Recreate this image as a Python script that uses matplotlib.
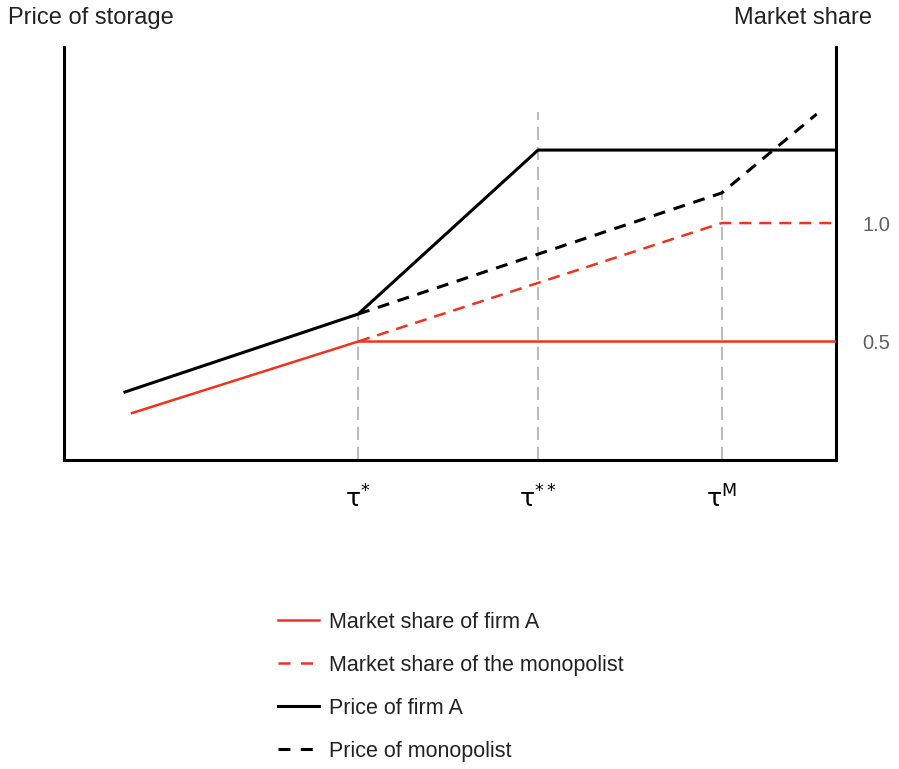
import matplotlib
matplotlib.use("Agg")
import matplotlib.pyplot as plt

# Threshold positions on the storage-cost axis
tau_labels = [r"$\mathrm{\tau}^{\mathrm{*}}$", r"$\mathrm{\tau}^{\mathrm{**}}$", r"$\mathrm{\tau}^{\mathrm{M}}$"]
tau_pos = [3.81, 6.14, 8.52]

# Market share of firm A (solid red)
share_a_x = [0.88, 3.81, 10.0]
share_a_y = [0.198, 0.5, 0.5]

# Market share of the monopolist (dashed red)
share_m_x = [3.81, 8.52, 10.0]
share_m_y = [0.5, 1.0, 1.0]

# Price of firm A (solid black)
price_a_x = [0.79, 3.81, 6.14, 10.0]
price_a_y = [0.287, 0.616, 1.308, 1.308]

# Price of monopolist (dashed black)
price_m_x = [3.81, 8.52, 9.75]
price_m_y = [0.616, 1.127, 1.46]

# Heights reached by the grey guide lines
guide_top = [0.616, 1.47, 1.127]

share_ticks = [0.5, 1.0]
share_tick_labels = ["0.5", "1.0"]

RED = "#f0331f"
GREY = "#bdbdbd"

fig = plt.figure(figsize=(8.99, 7.69), dpi=100)
ax = fig.add_axes([64 / 899, 1 - 460 / 769, (836 - 64) / 899, (460 - 47) / 769])
ax.set_xlim(0, 10)
ax.set_ylim(0, 1.743)

for xp, top in zip(tau_pos, guide_top):
    ax.plot([xp, xp], [0, top], color=GREY, lw=1.5, dashes=(6.3, 3.3), zorder=1)

l1, = ax.plot(share_a_x, share_a_y, color=RED, lw=1.8, zorder=3,
              label="Market share of firm A")
l2, = ax.plot(share_m_x, share_m_y, color=RED, lw=1.8, dashes=(4.8, 3.2), zorder=3,
              label="Market share of the monopolist")
l3, = ax.plot(price_a_x, price_a_y, color="black", lw=2.2, zorder=4,
              label="Price of firm A")
l4, = ax.plot(price_m_x, price_m_y, color="black", lw=2.2, dashes=(3.9, 2.9), zorder=4,
              label="Price of monopolist")

for side in ["left", "bottom", "right"]:
    ax.spines[side].set_linewidth(2.2)
    ax.spines[side].set_color("black")
ax.spines["top"].set_visible(False)

ax.set_xticks(tau_pos)
ax.set_xticklabels(tau_labels, fontsize=18)
ax.tick_params(axis="x", length=0, pad=18)

ax.yaxis.tick_right()
ax.set_yticks(share_ticks)
ax.set_yticklabels(share_tick_labels, fontsize=14.5, color="#606060", family="Liberation Sans")
ax.tick_params(axis="y", length=0, pad=19)

fig.text(8 / 899, 1 - 18 / 769, "Price of storage", fontsize=17,
         family="Liberation Sans", va="center", ha="left", color="#222222")
fig.text(872 / 899, 1 - 18 / 769, "Market share", fontsize=17,
         family="Liberation Sans", va="center", ha="right", color="#222222")

leg = fig.legend(handles=[l1, l2, l3, l4], loc="upper left",
                 bbox_to_anchor=(278 / 899, 1 - 612 / 769), frameon=False,
                 borderpad=0, borderaxespad=0, handlelength=1.9, handletextpad=0.45,
                 labelspacing=1.02, prop={"family": "Liberation Sans", "size": 15.5})
for t in leg.get_texts():
    t.set_color("#222222")
# two long dashes per legend handle
leg.get_lines()[1].set_dashes((4.8, 4.2))
leg.get_lines()[3].set_dashes((3.9, 3.4))

fig.savefig("out.png", dpi=100)
